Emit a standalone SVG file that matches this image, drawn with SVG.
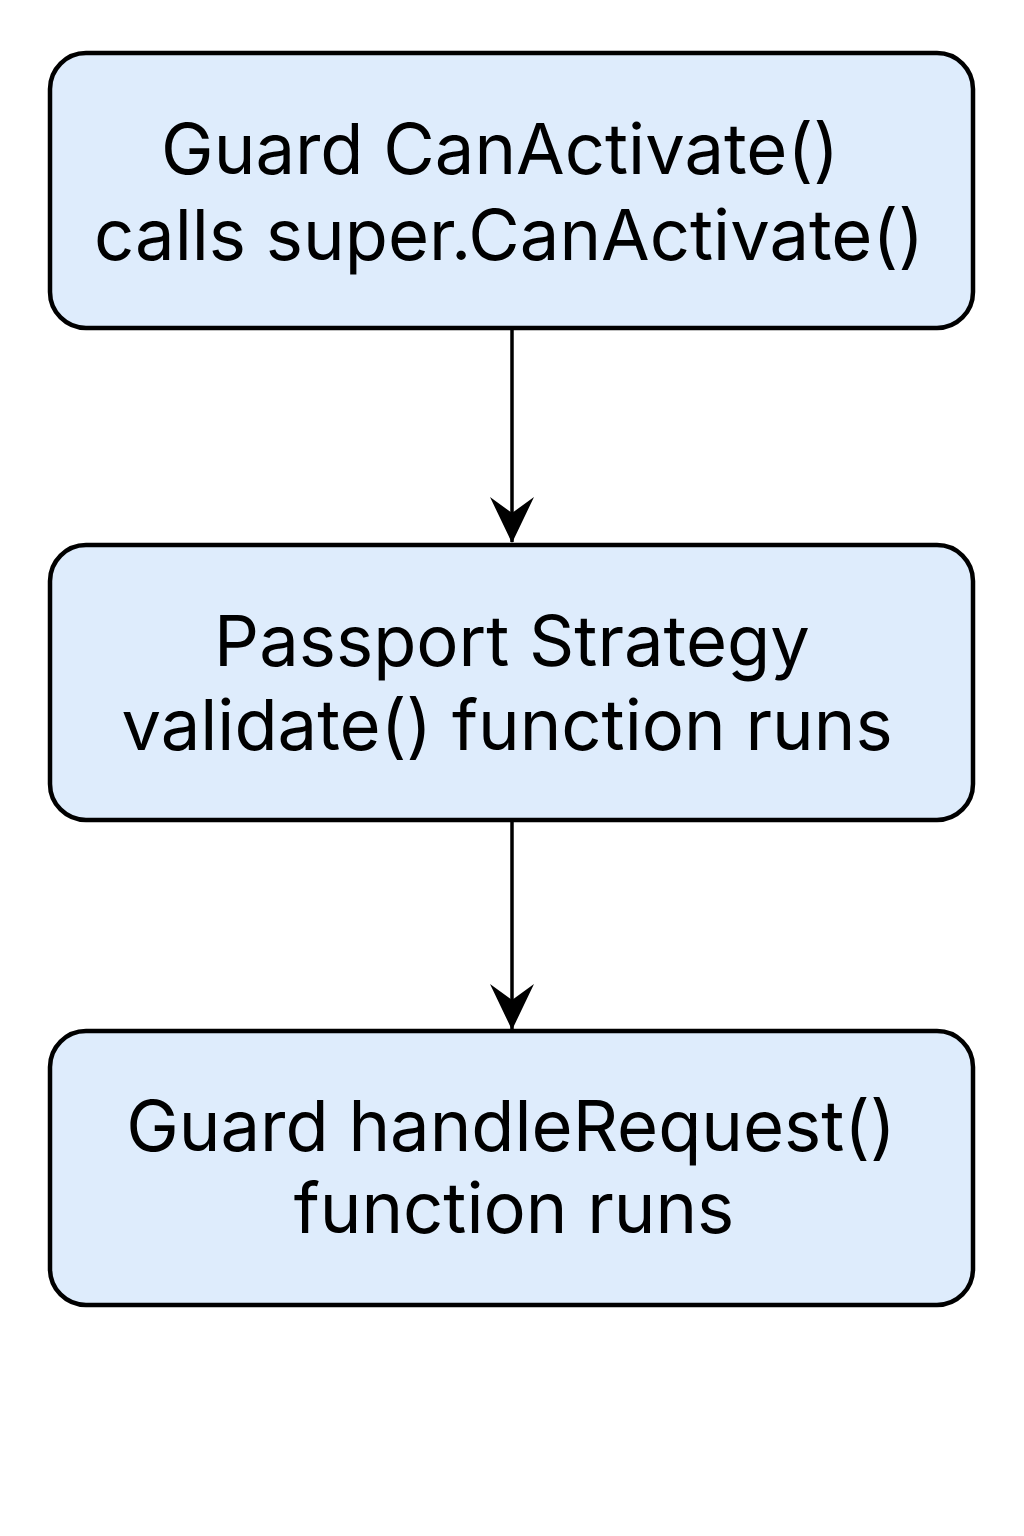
<svg xmlns="http://www.w3.org/2000/svg" width="1024" height="1536" viewBox="0 0 1024 1536">
<style>
.box{fill:#DEECFC;stroke:#000;stroke-width:4.5}
.t{font-family:Inter,"Liberation Sans",sans-serif;font-size:70.5px;fill:#000;text-anchor:middle}
.c{stroke:#000;stroke-width:3.5;fill:none}
</style>
<defs>
<marker id="ah" markerUnits="userSpaceOnUse" viewBox="0 0 46 44" refX="45" refY="22" markerWidth="46" markerHeight="44" orient="auto">
<path d="M0,0 L46,22 L0,44 L16,22 Z" fill="#000"/>
</marker>
</defs>
<rect width="1024" height="1536" fill="#fff"/>
<g id="connectors">
<line class="c" x1="512" y1="328" x2="512" y2="542" marker-end="url(#ah)"/>
<line class="c" x1="512" y1="820" x2="512" y2="1029" marker-end="url(#ah)"/>
</g>
<g id="node1">
<rect class="box" x="50" y="53" width="923" height="275" rx="36"/>
<text class="t" x="500" y="174">Guard CanActivate()</text>
<text class="t" x="509" y="260">calls super.CanActivate()</text>
</g>
<g id="node2">
<rect class="box" x="50" y="545" width="923" height="275" rx="36"/>
<text class="t" x="512" y="666">Passport Strategy</text>
<text class="t" x="507" y="750">validate() function runs</text>
</g>
<g id="node3">
<rect class="box" x="50" y="1031" width="923" height="274" rx="36"/>
<text class="t" x="511" y="1151">Guard handleRequest()</text>
<text class="t" x="514" y="1233">function runs</text>
</g>
</svg>
